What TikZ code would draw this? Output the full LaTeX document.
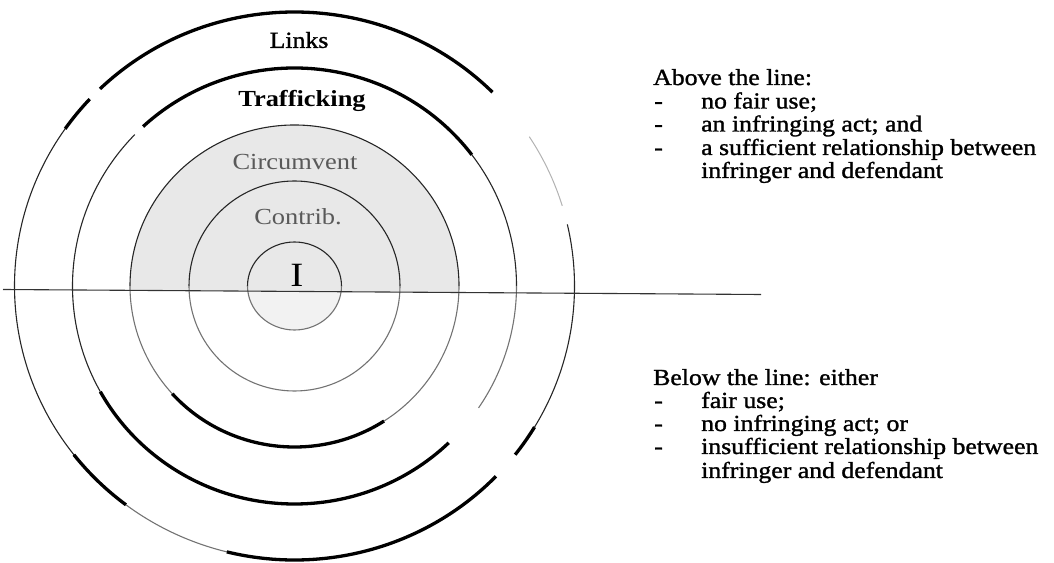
\documentclass[tikz,border=0pt]{standalone}
\usepackage{fontspec}
\setmainfont{Liberation Serif}[FakeStretch=1.15]
\newfontfamily\heavy{Liberation Serif}[FakeStretch=1.12, FakeBold=1.3]
\newcommand{\seg}[5]{\draw[#1] (C) ++(#4:#2pt and #3pt) arc[start angle=#4, end angle=#5, x radius=#2pt, y radius=#3pt];}
\begin{document}
\begin{tikzpicture}[x=1pt,y=1pt,
  thinline/.style={line width=1.1pt, draw=black!85},
  thickline/.style={line width=3.3pt, draw=black},
  grayline/.style={line width=1.1pt, draw=black!55},
  faintline/.style={line width=1pt, draw=black!30},
  lbl/.style={font=\fontsize{23}{27}\selectfont, inner sep=0pt},
  txt/.style={font=\fontsize{23}{27}\selectfont\heavy, inner sep=0pt, anchor=base west},
]
\path[use as bounding box] (0,0) rectangle (1054,562);
\coordinate (C) at (294.5,276);
\coordinate (L1) at (3,272.5);
\coordinate (L2) at (761,267.5);
% shading
\begin{scope}
\clip (L1) -- (L2) -- (761,562) -- (3,562) -- cycle;
\fill[black!9] (C) ellipse[x radius=164.5pt, y radius=161pt];
\end{scope}
\begin{scope}
\clip (L1) -- (L2) -- (761,0) -- (3,0) -- cycle;
\fill[black!5] (C) ellipse[x radius=47pt, y radius=44pt];
\end{scope}
% inner circle
\seg{thinline}{47}{44}{0}{180}
\seg{grayline}{47}{44}{180}{360}
% contrib circle
\seg{thinline}{105.5}{105}{0}{180}
\seg{grayline}{105.5}{105}{180}{360}
% circumvent circle
\seg{thinline}{164.5}{161}{0}{180}
\seg{grayline}{164.5}{161}{180}{222}
\seg{thickline}{164.5}{161}{222}{303}
\seg{grayline}{164.5}{161}{303}{360}
% trafficking circle
\seg{thinline}{222}{218}{0}{37}
\seg{thickline}{222}{218}{37}{133}
\seg{thinline}{222}{218}{136}{209}
\seg{thickline}{222}{218}{209}{314}
\seg{grayline}{222}{218}{326}{360}
% links circle
\seg{thinline}{280}{274}{0}{13}
\seg{faintline}{280}{274}{17}{33}
\seg{thickline}{280}{274}{45}{134}
\seg{thickline}{280}{274}{137}{145}
\seg{thinline}{280}{274}{145}{218}
\seg{thickline}{280}{274}{218}{233}
\seg{grayline}{280}{274}{233}{256}
\seg{thickline}{280}{274}{256}{316}
\seg{thickline}{280}{274}{322}{329}
\seg{thinline}{280}{274}{329}{360}
% the line
\draw[line width=1.1pt, black!80] (L1) -- (L2);
% labels
\node[lbl, font=\fontsize{23}{27}\selectfont\heavy] (links) at (299,522) {Links};
\node[lbl, font=\fontsize{23}{27}\selectfont\bfseries] (traf) at (302,461) {Trafficking};
\node[lbl, text=black!65] (circ) at (295,400) {Circumvent};
\node[lbl, text=black!65] (contrib) at (298,345) {Contrib.};
\node[inner sep=0pt, font=\fontsize{34}{36}\selectfont] (I) at (297,287) {I};
% right text, above
\node[txt] (above) at (653,477) {Above the line:};
\node[txt] (ad1) at (654,453.5) {-};
\node[txt] (at1) at (701,453.5) {no fair use;};
\node[txt] (ad2) at (654,430.5) {-};
\node[txt] (at2) at (701,430.5) {an infringing act; and};
\node[txt] (ad3) at (654,407) {-};
\node[txt] (at3) at (701,407) {a sufficient relationship between};
\node[txt] (at4) at (701,384) {infringer and defendant};
% right text, below
\node[txt] (below) at (653,177) {Below the line: either};
\node[txt] (bd1) at (654,154) {-};
\node[txt] (bt1) at (701,154) {fair use;};
\node[txt] (bd2) at (654,131) {-};
\node[txt] (bt2) at (701,131) {no infringing act; or};
\node[txt] (bd3) at (654,108) {-};
\node[txt] (bt3) at (701,108) {insufficient relationship between};
\node[txt] (bt4) at (701,84) {infringer and defendant};
\end{tikzpicture}
\end{document}
